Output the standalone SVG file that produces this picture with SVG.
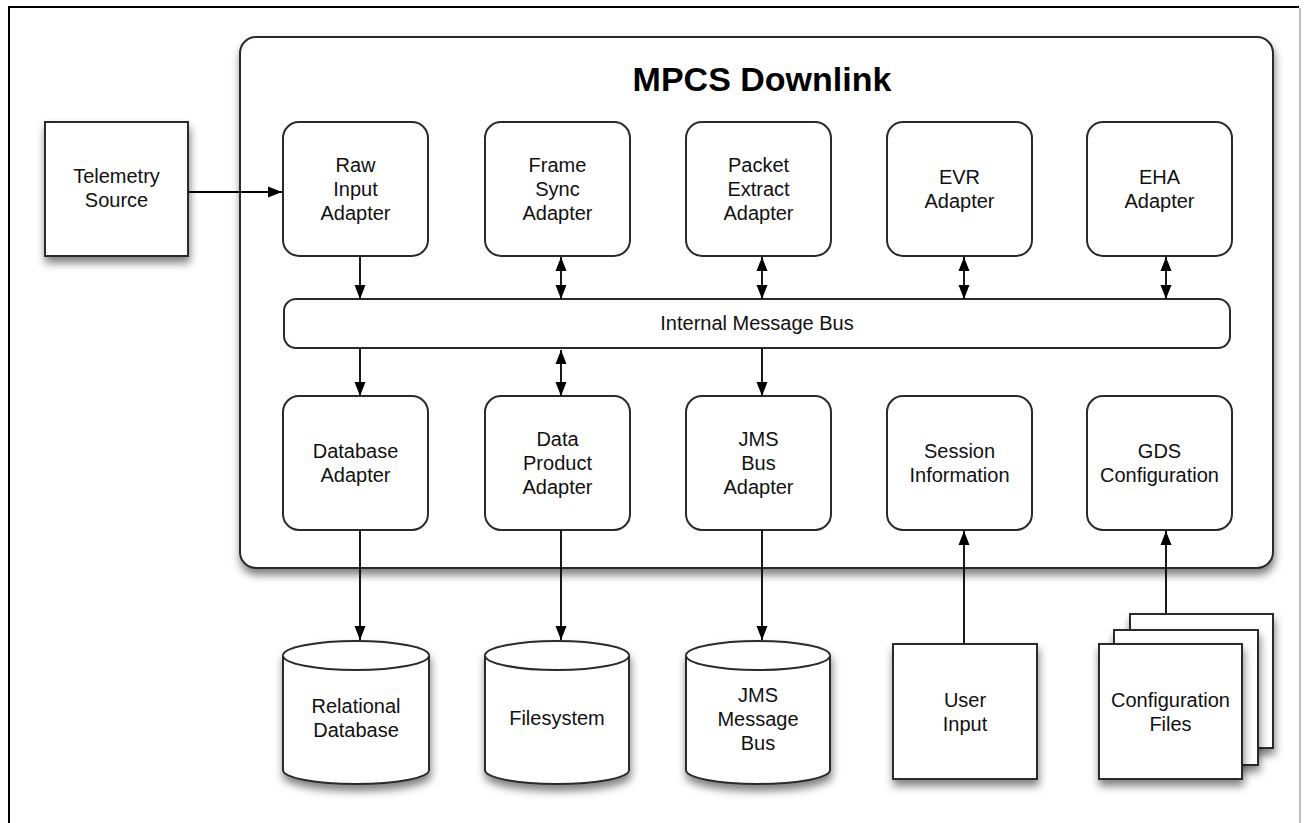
<svg xmlns="http://www.w3.org/2000/svg" width="1308" height="823" viewBox="0 0 1308 823">
  <defs>
    <filter id="shadow" x="-20%" y="-20%" width="140%" height="150%">
      <feDropShadow dx="1" dy="6" stdDeviation="4" flood-color="#000" flood-opacity="0.5"/>
    </filter>
    <marker id="arrow" viewBox="0 0 14 12" refX="14" refY="6" markerWidth="14" markerHeight="12" markerUnits="userSpaceOnUse" orient="auto-start-reverse">
      <path d="M0,0.5 L14,6 L0,11.5 Z" fill="#000"/>
    </marker>
    <style>
      .box { fill: #fff; stroke: #2a2a2a; stroke-width: 2; }
      .shadowed { filter: url(#shadow); }
      .wire { fill: none; stroke: #000; stroke-width: 1.8; }
      .label { font-family: "Liberation Sans", Arial, Helvetica, sans-serif; font-size: 20px; fill: #111; text-anchor: middle; }
      .title { font-family: "Liberation Sans", Arial, Helvetica, sans-serif; font-size: 34px; font-weight: bold; fill: #000; text-anchor: middle; }
    </style>
  </defs>

  <rect width="1308" height="823" fill="#fff"/>

  <!-- page frame -->
  <path d="M9,823 V7 H1299" fill="none" stroke="#000" stroke-width="2"/>
  <line x1="1300" y1="8" x2="1300" y2="823" stroke="#bdbdbd" stroke-width="2"/>

  <!-- MPCS Downlink container -->
  <g id="mpcs-downlink">
    <rect class="box shadowed" x="240" y="37" width="1033" height="531" rx="16"/>
    <text class="title" x="762" y="91">MPCS Downlink</text>
  </g>

  <!-- external source -->
  <g id="telemetry-source">
    <rect class="box shadowed" x="45" y="122" width="143" height="134"/>
    <text class="label" x="116.5" y="183">Telemetry</text>
    <text class="label" x="116.5" y="207">Source</text>
  </g>

  <!-- upper adapters -->
  <g id="raw-input-adapter">
    <rect class="box" x="283" y="122" width="145" height="134" rx="16"/>
    <text class="label" x="355.5" y="172">Raw</text>
    <text class="label" x="355.5" y="196">Input</text>
    <text class="label" x="355.5" y="220">Adapter</text>
  </g>
  <g id="frame-sync-adapter">
    <rect class="box" x="485" y="122" width="145" height="134" rx="16"/>
    <text class="label" x="557.5" y="172">Frame</text>
    <text class="label" x="557.5" y="196">Sync</text>
    <text class="label" x="557.5" y="220">Adapter</text>
  </g>
  <g id="packet-extract-adapter">
    <rect class="box" x="686" y="122" width="145" height="134" rx="16"/>
    <text class="label" x="758.5" y="172">Packet</text>
    <text class="label" x="758.5" y="196">Extract</text>
    <text class="label" x="758.5" y="220">Adapter</text>
  </g>
  <g id="evr-adapter">
    <rect class="box" x="887" y="122" width="145" height="134" rx="16"/>
    <text class="label" x="959.5" y="184">EVR</text>
    <text class="label" x="959.5" y="208">Adapter</text>
  </g>
  <g id="eha-adapter">
    <rect class="box" x="1087" y="122" width="145" height="134" rx="16"/>
    <text class="label" x="1159.5" y="184">EHA</text>
    <text class="label" x="1159.5" y="208">Adapter</text>
  </g>

  <!-- message bus -->
  <g id="internal-message-bus">
    <rect class="box" x="284" y="299" width="946" height="49" rx="12"/>
    <text class="label" x="757" y="330">Internal Message Bus</text>
  </g>

  <!-- lower adapters -->
  <g id="database-adapter">
    <rect class="box" x="283" y="396" width="145" height="134" rx="16"/>
    <text class="label" x="355.5" y="458">Database</text>
    <text class="label" x="355.5" y="482">Adapter</text>
  </g>
  <g id="data-product-adapter">
    <rect class="box" x="485" y="396" width="145" height="134" rx="16"/>
    <text class="label" x="557.5" y="446">Data</text>
    <text class="label" x="557.5" y="470">Product</text>
    <text class="label" x="557.5" y="494">Adapter</text>
  </g>
  <g id="jms-bus-adapter">
    <rect class="box" x="686" y="396" width="145" height="134" rx="16"/>
    <text class="label" x="758.5" y="446">JMS</text>
    <text class="label" x="758.5" y="470">Bus</text>
    <text class="label" x="758.5" y="494">Adapter</text>
  </g>
  <g id="session-information">
    <rect class="box" x="887" y="396" width="145" height="134" rx="16"/>
    <text class="label" x="959.5" y="458">Session</text>
    <text class="label" x="959.5" y="482">Information</text>
  </g>
  <g id="gds-configuration">
    <rect class="box" x="1087" y="396" width="145" height="134" rx="16"/>
    <text class="label" x="1159.5" y="458">GDS</text>
    <text class="label" x="1159.5" y="482">Configuration</text>
  </g>

  <!-- data stores -->
  <g id="relational-database">
    <path class="box shadowed" d="M283,655.5 A73,14.5 0 0 1 429,655.5 V770 A73,14 0 0 1 283,770 Z"/>
    <path class="box" d="M283,655.5 A73,14.5 0 0 0 429,655.5" fill="none"/>
    <text class="label" x="356" y="713">Relational</text>
    <text class="label" x="356" y="737">Database</text>
  </g>
  <g id="filesystem">
    <path class="box shadowed" d="M485,655.5 A72,14.5 0 0 1 629,655.5 V770 A72,14 0 0 1 485,770 Z"/>
    <path class="box" d="M485,655.5 A72,14.5 0 0 0 629,655.5" fill="none"/>
    <text class="label" x="557" y="725">Filesystem</text>
  </g>
  <g id="jms-message-bus">
    <path class="box shadowed" d="M686,655.5 A72,14.5 0 0 1 830,655.5 V770 A72,14 0 0 1 686,770 Z"/>
    <path class="box" d="M686,655.5 A72,14.5 0 0 0 830,655.5" fill="none"/>
    <text class="label" x="758" y="702">JMS</text>
    <text class="label" x="758" y="726">Message</text>
    <text class="label" x="758" y="750">Bus</text>
  </g>

  <!-- user / file inputs -->
  <g id="user-input">
    <rect class="box shadowed" x="893" y="644" width="144" height="135"/>
    <text class="label" x="965" y="707">User</text>
    <text class="label" x="965" y="731">Input</text>
  </g>
  <g id="configuration-files">
    <rect class="box shadowed" x="1130" y="614" width="143" height="134"/>
    <rect class="box shadowed" x="1114" y="630" width="144" height="135"/>
    <rect class="box shadowed" x="1099" y="644" width="143" height="135"/>
    <text class="label" x="1170.5" y="707">Configuration</text>
    <text class="label" x="1170.5" y="731">Files</text>
  </g>

  <!-- connectors -->
  <g id="connectors" class="wire">
    <line x1="188" y1="192" x2="282" y2="192" marker-end="url(#arrow)"/>

    <line x1="360" y1="256" x2="360" y2="299" marker-end="url(#arrow)"/>
    <line x1="561" y1="257" x2="561" y2="299" marker-start="url(#arrow)" marker-end="url(#arrow)"/>
    <line x1="762" y1="257" x2="762" y2="299" marker-start="url(#arrow)" marker-end="url(#arrow)"/>
    <line x1="964" y1="257" x2="964" y2="299" marker-start="url(#arrow)" marker-end="url(#arrow)"/>
    <line x1="1166" y1="257" x2="1166" y2="299" marker-start="url(#arrow)" marker-end="url(#arrow)"/>

    <line x1="360" y1="348" x2="360" y2="396" marker-end="url(#arrow)"/>
    <line x1="561" y1="350" x2="561" y2="396" marker-start="url(#arrow)" marker-end="url(#arrow)"/>
    <line x1="762" y1="348" x2="762" y2="396" marker-end="url(#arrow)"/>

    <line x1="360" y1="530" x2="360" y2="640" marker-end="url(#arrow)"/>
    <line x1="561" y1="530" x2="561" y2="640" marker-end="url(#arrow)"/>
    <line x1="762" y1="530" x2="762" y2="640" marker-end="url(#arrow)"/>

    <line x1="964" y1="643" x2="964" y2="531" marker-end="url(#arrow)"/>
    <line x1="1166" y1="613" x2="1166" y2="531" marker-end="url(#arrow)"/>
  </g>
</svg>
